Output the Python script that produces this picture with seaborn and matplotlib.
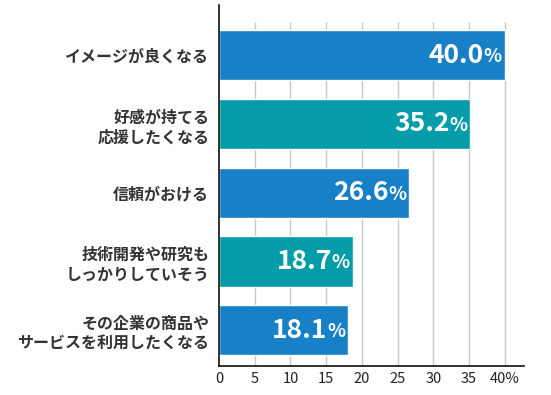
import matplotlib
matplotlib.use("Agg")
import matplotlib.pyplot as plt
import seaborn as sns
import pandas as pd

categories = [
    "イメージが良くなる",
    "好感が持てる\n応援したくなる",
    "信頼がおける",
    "技術開発や研究も\nしっかりしていそう",
    "その企業の商品や\nサービスを利用したくなる",
]
values = [40.0, 35.2, 26.6, 18.7, 18.1]
bar_colors = ["#1780c6", "#059ca9", "#1780c6", "#059ca9", "#1780c6"]
x_ticks = [0, 5, 10, 15, 20, 25, 30, 35, 40]
x_tick_labels = ["0", "5", "10", "15", "20", "25", "30", "35", "40%"]

sns.set_theme(style="white")
plt.rcParams["font.family"] = ["Noto Sans CJK JP", "DejaVu Sans"]

df = pd.DataFrame({"category": categories, "value": values})

fig = plt.figure(figsize=(5.51, 3.95), dpi=100)
ax = fig.add_axes([0.3975, 0.0734, 0.5535, 0.9136])

# grid lines (start a bit below the top of the axis)
for t in x_ticks[1:]:
    ax.vlines(t, -0.48, 4.52, color="#c8c8c8", lw=1, zorder=0)

sns.barplot(data=df, x="value", y="category", hue="category",
            palette=bar_colors, legend=False, width=0.73,
            saturation=1, ax=ax, zorder=2)

for i, v in enumerate(values):
    ax.annotate("%", xy=(v, i), xytext=(-2, -1), textcoords="offset points",
                ha="right", va="center", fontsize=13.5, fontweight="bold",
                color="white", zorder=3)
    ax.annotate(f"{v:.1f}", xy=(v, i), xytext=(-15, 0), textcoords="offset points",
                ha="right", va="center", fontsize=19, fontweight="bold",
                color="white", zorder=3)

ax.set_xlim(0, 42.7)
ax.set_ylim(4.52, -0.727)
ax.set_xticks(x_ticks)
ax.set_xticklabels(x_tick_labels)
ax.tick_params(axis="x", length=0, pad=4, labelsize=10.5, colors="#222222")
ax.tick_params(axis="y", length=0, pad=7, labelsize=11.5, colors="#333333")
for lbl in ax.get_yticklabels():
    lbl.set_fontweight("bold")
    lbl.set_linespacing(1.3)
ax.set_xlabel("")
ax.set_ylabel("")

sns.despine(ax=ax, top=True, right=True)
for s in ["left", "bottom"]:
    ax.spines[s].set_color("#111111")
    ax.spines[s].set_linewidth(1.2)

fig.savefig("out.png", dpi=100)
